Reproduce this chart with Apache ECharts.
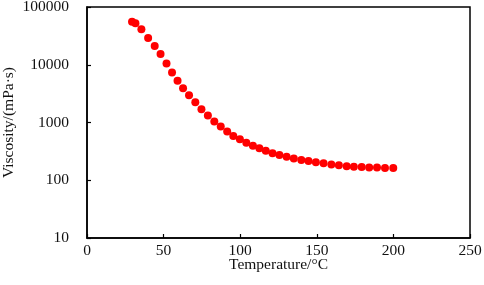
<!DOCTYPE html>
<html>
<head>
<meta charset="utf-8">
<script src="https://cdn.jsdelivr.net/npm/echarts@6/dist/echarts.min.js"></script>
<style>html,body{margin:0;padding:0;background:#fff;}#c{width:484px;height:285px;}</style>
</head>
<body>
<div id="c"></div>
<script>
var temperature = [29.4, 31.6, 35.5, 39.9, 44.2, 48.0, 51.9, 55.5, 59.1, 62.7, 66.6, 70.7, 74.7, 78.9, 83.1, 87.3, 91.5, 95.5, 99.8, 104.0, 108.3, 112.5, 116.7, 121.1, 125.6, 130.3, 135.0, 139.9, 144.6, 149.4, 154.4, 159.5, 164.4, 169.5, 174.2, 179.3, 184.2, 189.3, 194.5, 199.9];
var viscosity = [55600, 52200, 41100, 29000, 21100, 15300, 10500, 7340, 5300, 3910, 2960, 2240, 1690, 1320, 1040, 853, 698, 583, 511, 447, 396, 357, 325, 293, 274, 256, 238, 224, 215, 205, 197, 188, 182, 175, 172, 170, 167, 166, 163, 163];
var xTicks = [0, 50, 100, 150, 200, 250];
var yTicks = [10, 100, 1000, 10000, 100000];

var pts = temperature.map(function (t, i) { return [t, viscosity[i]]; });
var font = '"Liberation Serif", "Times New Roman", serif';
var chart = echarts.init(document.getElementById('c'), null, {renderer: 'canvas'});
chart.setOption({
  animation: false,
  grid: {left: 87, right: 14, top: 7, bottom: 47, containLabel: false, outerBoundsMode: 'none', show: true, borderColor: '#000', borderWidth: 1.5, backgroundColor: 'transparent'},
  xAxis: {
    type: 'value', min: xTicks[0], max: xTicks[xTicks.length - 1], interval: 50,
    name: 'Temperature/\u00B0C', nameLocation: 'middle', nameGap: 19, nameMoveOverlap: false,
    nameTextStyle: {fontFamily: font, fontSize: 15.5, color: '#111'},
    axisLine: {show: true, lineStyle: {color: '#000', width: 1.5}},
    axisTick: {show: true, inside: true, length: 4, lineStyle: {color: '#000', width: 1.2}},
    axisLabel: {fontFamily: font, fontSize: 15.5, color: '#111', margin: 5},
    splitLine: {show: false}
  },
  yAxis: {
    type: 'log', logBase: 10, min: yTicks[0], max: yTicks[yTicks.length - 1],
    name: 'Viscosity/(mPa\u00B7s)', nameLocation: 'middle', nameGap: 70, nameMoveOverlap: false,
    nameTextStyle: {fontFamily: font, fontSize: 15.5, color: '#111'},
    axisLine: {show: true, lineStyle: {color: '#000', width: 1.5}},
    axisTick: {show: true, inside: true, length: 4, lineStyle: {color: '#000', width: 1.2}},
    minorTick: {show: false},
    axisLabel: {fontFamily: font, fontSize: 15.5, color: '#111', margin: 18, formatter: function (v) { return String(Math.round(v)); }},
    splitLine: {show: false}
  },
  series: [{
    type: 'scatter', data: pts, symbol: 'circle', symbolSize: 8,
    itemStyle: {color: '#ff0000', opacity: 1}
  }]
});
</script>
</body>
</html>
